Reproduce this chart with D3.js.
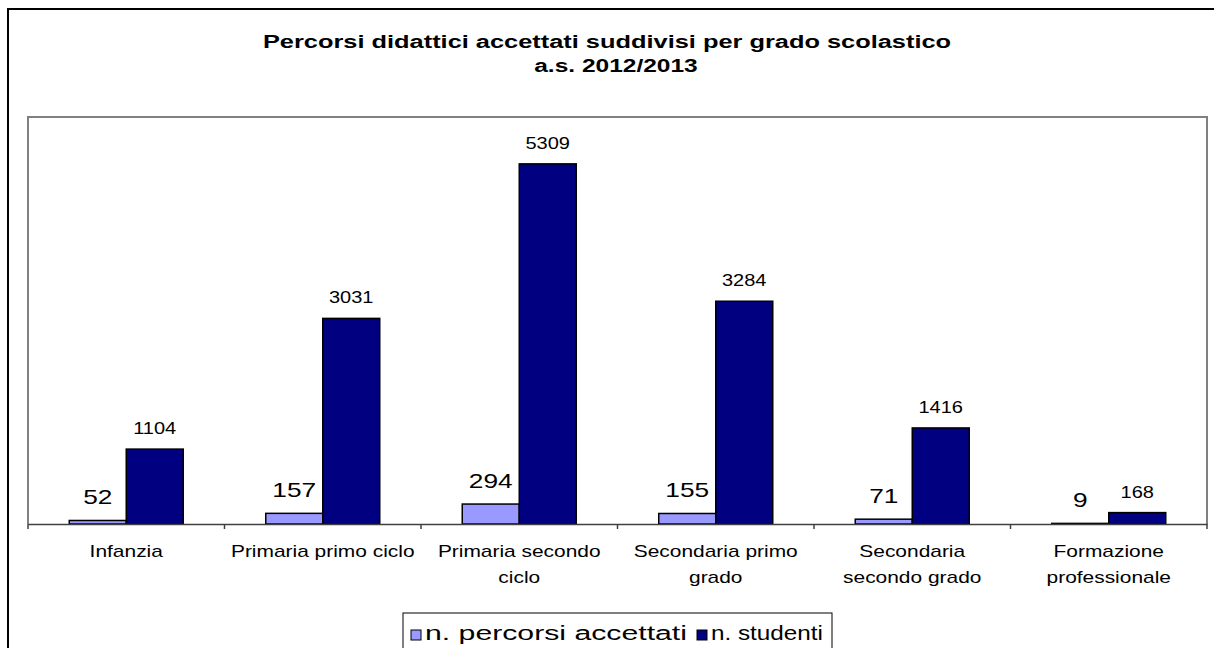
<!DOCTYPE html>
<html><head><meta charset="utf-8">
<script src="https://cdn.jsdelivr.net/npm/d3@7"></script>
<style>html,body{margin:0;padding:0;background:#fff;overflow:hidden}text{font-family:"Liberation Sans",Arial,sans-serif}</style>
</head><body><svg id="c" width="1214" height="648"></svg>
<script>
const categories = ["Infanzia","Primaria primo ciclo","Primaria secondo ciclo","Secondaria primo grado","Secondaria secondo grado","Formazione professionale"];
const tickLines = [["Infanzia"],["Primaria primo ciclo"],["Primaria secondo","ciclo"],["Secondaria primo","grado"],["Secondaria","secondo grado"],["Formazione","professionale"]];
const seriesNames = ["n. percorsi accettati","n. studenti"];
const percorsi = [52,157,294,155,71,9];
const studenti = [1104,3031,5309,3284,1416,168];
const colors = ["#9999FF","#000080"];
const titleLines = ["Percorsi didattici accettati suddivisi per grado scolastico","a.s. 2012/2013"];

const svg = d3.select("#c");
function stretch(sel, f){ sel.each(function(){ const w=this.getComputedTextLength(); this.setAttribute("textLength", w*f); this.setAttribute("lengthAdjust","spacingAndGlyphs"); }); }

// outer frame
svg.append("rect").attr("x",8).attr("y",9).attr("width",1240).attr("height",700).attr("fill","none").attr("stroke","#000").attr("stroke-width",2);

// title
const t1 = svg.append("text").attr("x",607).attr("y",48).attr("text-anchor","middle").attr("font-size",17.5).attr("font-weight","bold").text(titleLines[0]);
const t2 = svg.append("text").attr("x",616).attr("y",72).attr("text-anchor","middle").attr("font-size",17.5).attr("font-weight","bold").text(titleLines[1]);
stretch(t1,1.45); stretch(t2,1.40);

const L=28,R=1207,T=117,B=524;
const x0 = d3.scaleBand().domain(categories).range([L,R]).padding(0);
const bw = x0.bandwidth();
const x1 = d3.scaleBand().domain(seriesNames).range([bw/2-57, bw/2+57]).padding(0);
const y = d3.scaleLinear().domain([0,6000]).range([B,T]);

// plot border (left, top, right)
svg.append("path").attr("d",`M${L},${B}V${T}H${R}V${B}`).attr("fill","none").attr("stroke","#808080").attr("stroke-width",2);

const data = categories.map((c,i)=>({c, vals:[percorsi[i],studenti[i]]}));
const g = svg.append("g");
data.forEach(d=>{
  d.vals.forEach((v,j)=>{
    const s = seriesNames[j];
    g.append("rect").attr("x",x0(d.c)+x1(s)).attr("y",y(v)).attr("width",x1.bandwidth()).attr("height",B-y(v))
      .attr("fill",colors[j]).attr("stroke","#000").attr("stroke-width",1.5);
    const lab = g.append("text").attr("x",x0(d.c)+x1(s)+x1.bandwidth()/2).attr("y",y(v)-(j===0?16:15))
      .attr("text-anchor","middle").attr("font-size",j===0?21:16).attr("fill","#000").text(v);
    stretch(lab,1.25);
  });
});

// x axis
const ax = svg.append("g").attr("transform",`translate(0,${B})`)
  .call(d3.axisBottom(x0).tickSize(0).tickFormat(""));
ax.select(".domain").attr("stroke","#404040").attr("stroke-width",1.5);
const tickPos = d3.range(categories.length+1).map(i=>L+i*bw);
ax.selectAll("line.sep").data(tickPos).enter().append("line").attr("class","sep")
  .attr("x1",d=>d).attr("x2",d=>d).attr("y1",0).attr("y2",5).attr("stroke","#404040").attr("stroke-width",1.5);
categories.forEach((c,i)=>{
  tickLines[i].forEach((ln,k)=>{
    const t = svg.append("text").attr("x",x0(c)+bw/2).attr("y",557+k*26).attr("text-anchor","middle").attr("font-size",17).attr("fill","#000").text(ln);
    stretch(t,1.23);
  });
});

// legend
svg.append("rect").attr("x",403).attr("y",613).attr("width",429).attr("height",60).attr("fill","#fff").attr("stroke","#000").attr("stroke-width",1);
const legX = [411, 697];
const legW = [262, 112];
seriesNames.forEach((s,j)=>{
  svg.append("rect").attr("x",legX[j]).attr("y",630).attr("width",10).attr("height",10).attr("fill",colors[j]).attr("stroke","#000").attr("stroke-width",1);
  svg.append("text").attr("x",legX[j]+14).attr("y",640).attr("font-size",20).attr("fill","#000")
    .attr("textLength",legW[j]).attr("lengthAdjust","spacingAndGlyphs").text(s);
});
</script></body></html>
